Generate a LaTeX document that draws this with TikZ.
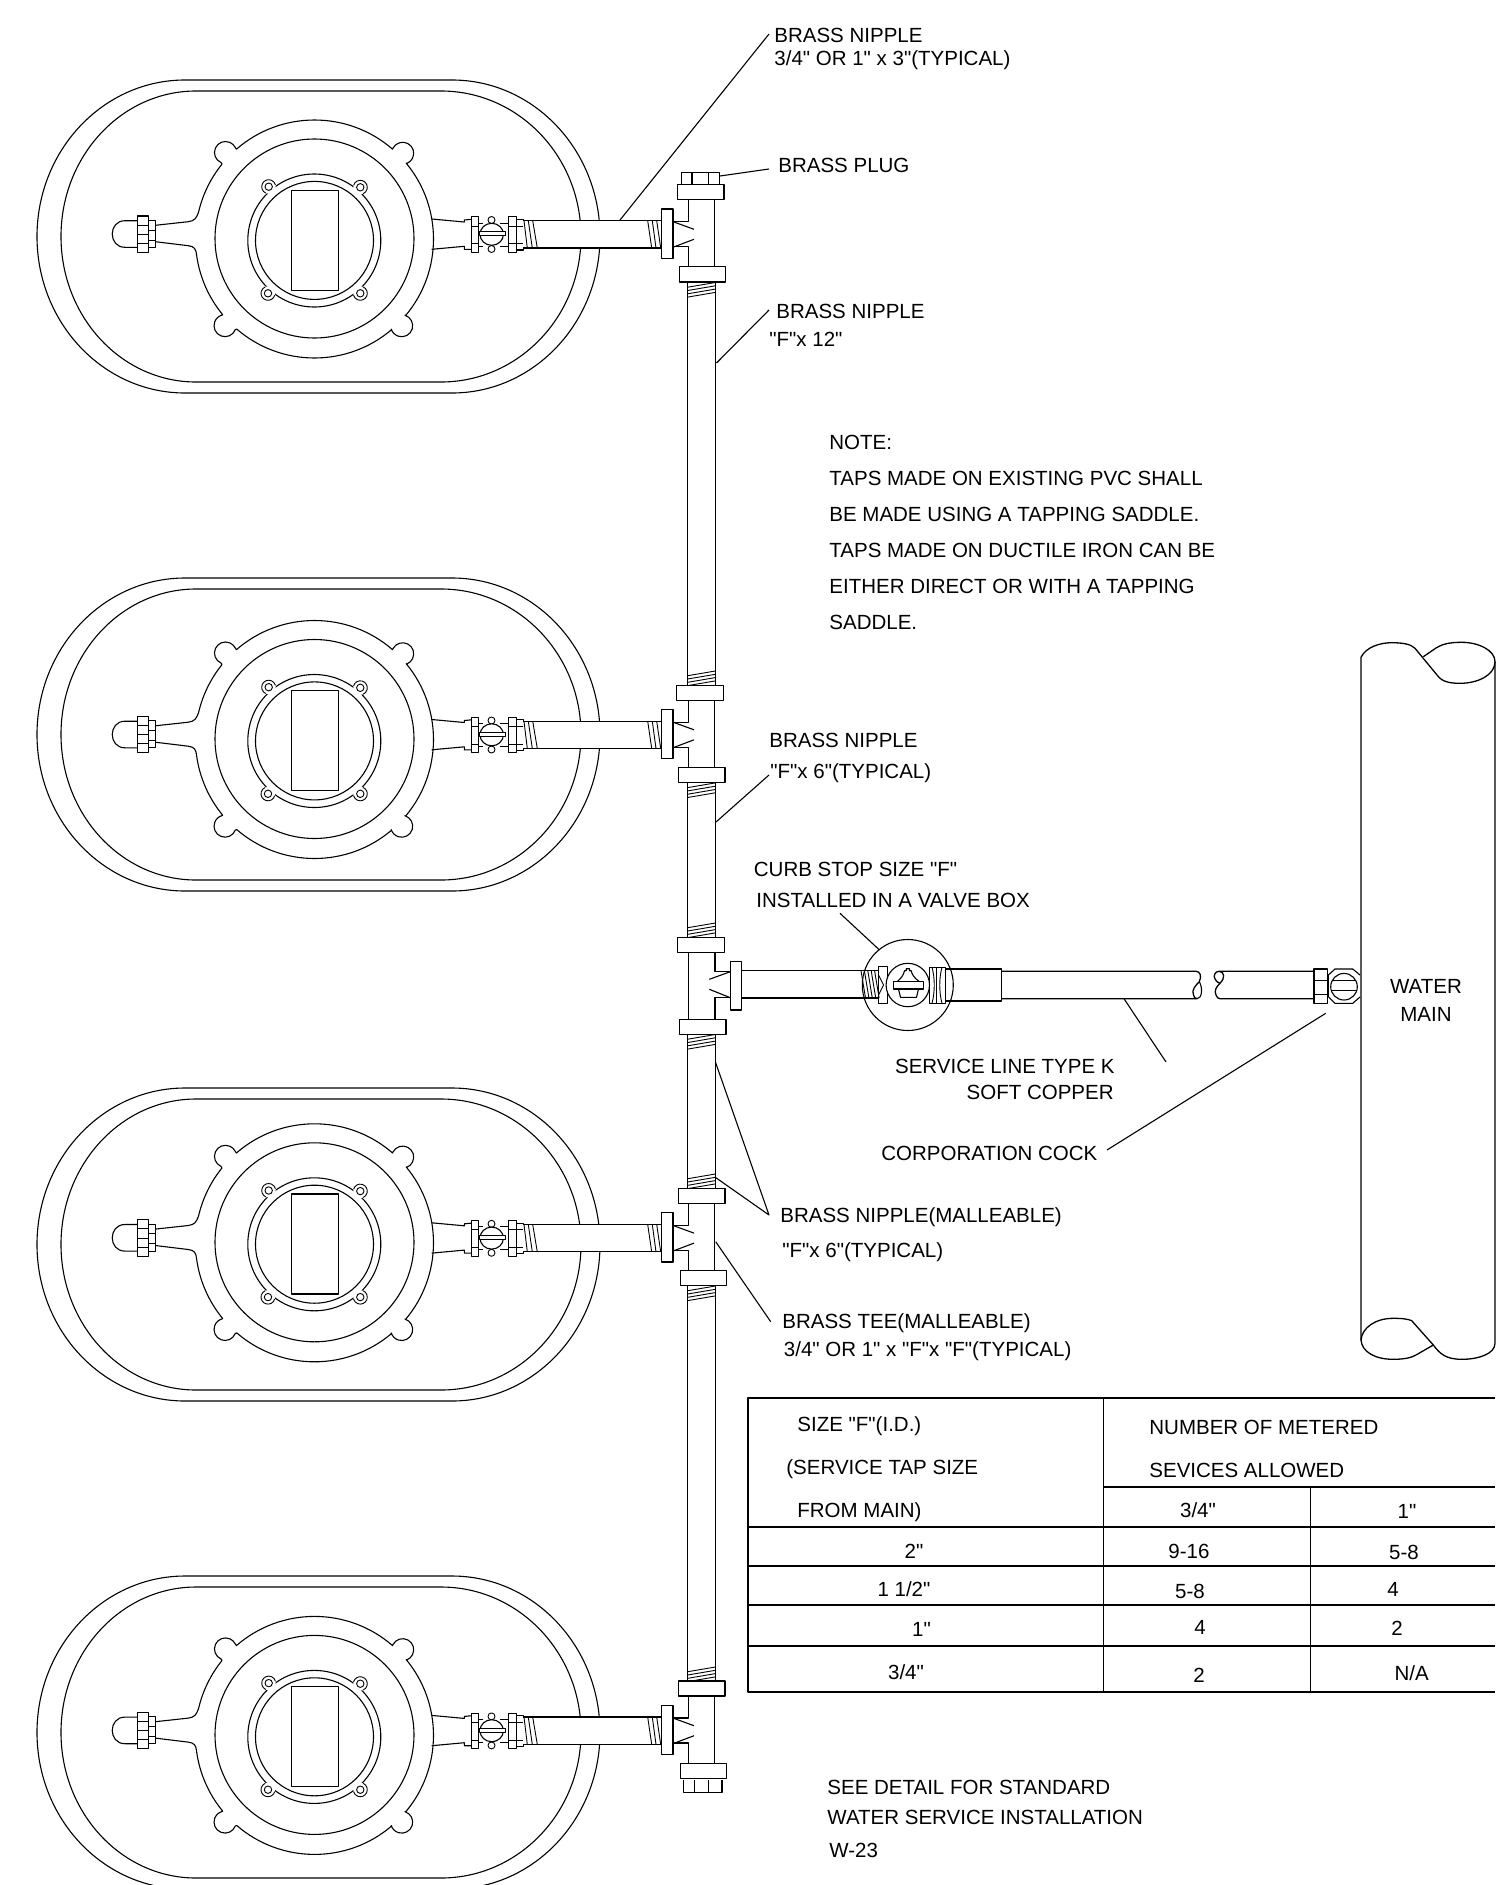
\documentclass[tikz,border=0pt]{standalone}
\usepackage{fontspec}
\setmainfont{Liberation Sans}
\newfontfamily\lblfont{Liberation Sans}
\tikzset{
  ln/.style={line width=.65pt,black,line join=round},
  thin ln/.style={line width=.55pt,black,line join=round},
  fine ln/.style={line width=.45pt,black,line join=round},
  lbl/.style={font=\lblfont\fontsize{10.25}{12}\selectfont,anchor=west,inner sep=0pt,text height=7.2pt,text depth=0pt},
  lblc/.style={lbl,anchor=center},
  lble/.style={lbl,anchor=east},
  box/.style={ln,fill=white}
}
% stadium offset, group offset
\newcommand{\MeterUnit}[2]{%
  \begin{scope}[shift={(0,#1)}]
    \draw[thin ln] (185,80) arc[start angle=-90,end angle=-180,x radius=148,y radius=156.5]
      arc[start angle=180,end angle=90,x radius=148,y radius=156.5] -- (452,393)
      arc[start angle=90,end angle=0,x radius=148,y radius=156.5]
      arc[start angle=0,end angle=-90,x radius=148,y radius=156.5] -- cycle;
    \draw[thin ln] (196,91) arc[start angle=-90,end angle=-180,x radius=135,y radius=145.5]
      arc[start angle=180,end angle=90,x radius=135,y radius=145.5] -- (441,382)
      arc[start angle=90,end angle=0,x radius=140,y radius=145.5]
      arc[start angle=0,end angle=-90,x radius=140,y radius=145.5] -- cycle;
  \end{scope}
  \begin{scope}[shift={(0,#2)}]
    \begin{scope}[shift={(314.5,239)}]
      \draw[thin ln] (-159.2,-13.7) -- (-126.2,-17.3) .. controls (-120,-18) and (-118,-21) .. (193:119)
        arc[start angle=193,end angle=219,radius=119] -- (-93.5,-76.45)
        arc[start angle=114,end angle=333,radius=11] -- (229:119)
        arc[start angle=229,end angle=311,radius=119] -- (78.5,-90.9)
        arc[start angle=208,end angle=427,radius=11] -- (320.4:119)
        arc[start angle=320.4,end angle=400,radius=119] -- (90.4,76.2)
        arc[start angle=287,end angle=522,radius=11] -- (49.6:119)
        arc[start angle=49.6,end angle=130.8,radius=119] -- (-79.2,90.6)
        arc[start angle=21,end angle=256,radius=11] -- (140.5:119)
        arc[start angle=140.5,end angle=172.3,radius=119]
        .. controls (-118.5,10) and (-120,7.5) .. (-126.2,6.7) -- (-159.2,2.7);
      \draw[thin ln] (0,-.5) circle[radius=99.5];
    \end{scope}
    \draw[thin ln] (314.3,240.5) circle[radius=66.5];
    \foreach \cx/\cy/\ang in {268.7/186.7/229.7,360.3/187.3/311,268/293.3/131.2,360.3/293.3/48.9}{
      \fill[white] (\cx,\cy) circle[radius=7];
      \draw[fine ln] ({\cx+7*cos(\ang-115)},{\cy+7*sin(\ang-115)}) arc[start angle=\ang-115,end angle=\ang+115,radius=7];
      \draw[fine ln] (\cx,\cy) circle[radius=3.7];
    }
    \draw[thin ln] (314.5,240.4) circle[radius=59];
    \draw[ln] (291.7,190.3) rectangle (338.7,290.3);
    % left cap and nuts
    \draw[thin ln] (137.7,220.7) -- (125,220.7) .. controls (108,220.7) and (108,247.3) .. (125,247.3) -- (137.7,247.3);
    \draw[thin ln] (137.7,216) rectangle (148.3,252.3);
    \draw[fine ln] (137.7,225) -- (148.3,225) (137.7,234.3) -- (148.3,234.3) (137.7,243.3) -- (148.3,243.3);
    \draw[thin ln] (148.3,220.3) rectangle (155.3,247.3);
    \draw[fine ln] (148.3,230) -- (155.3,230) (148.3,240) -- (155.3,240);
    % right tail
    \draw[thin ln] (431.7,219) -- (464.3,222) -- (464.3,220) -- (471.7,219.3);
    \draw[thin ln] (431.7,249.3) -- (464.3,246.3) -- (464.3,249.3) -- (471.7,249.3);
    % valve
    \draw[thin ln] (471.7,216.7) rectangle (478.3,252.3);
    \draw[fine ln] (471.7,226) -- (478.3,226) (471.7,243.7) -- (478.3,243.7);
    \draw[fine ln] (478.3,223) -- (483,223) (478.3,246) -- (483,246) (500,223) -- (508.3,223) (500,246) -- (508.3,246);
    \draw[fine ln] (491.5,220) circle[radius=3.5];
    \draw[fine ln] (491.5,249) circle[radius=3.5];
    \draw[thin ln,fill=white] (491.7,234.3) ellipse[x radius=11.7,y radius=11];
    \draw[thin ln,fill=white] (479.3,231.7) rectangle (505.7,235.7);
    \draw[thin ln] (508.3,216.7) rectangle (516.7,252.3);
    \draw[fine ln] (508.3,226) -- (516.7,226) (508.3,243.7) -- (516.7,243.7);
    \draw[thin ln] (516.7,219.3) rectangle (523.3,250);
    \draw[fine ln] (516.7,226) -- (523.3,226) (516.7,243.7) -- (523.3,243.7);
    % horizontal pipe
    \fill[white] (523.3,220.7) rectangle (661.7,248);
    \draw[ln] (523.3,220.7) -- (662,220.7) (523.3,248) -- (662,248);
    \foreach \ta/\tb in {524/527.3,528.3/532.3,532.7/537.3,647.7/651.7,652.3/656,656.7/660.7}{
      \draw[fine ln] (\ta,220.7) -- (\tb,248);
    }
    % tee mouth
    \fill[white] (661.7,209) rectangle (673.1,258.3);
    \draw[ln] (661.7,209) rectangle (673.1,258.3);
    \draw[ln] (673.1,221.7) -- (688.7,221.7) -- (688.7,200);
    \draw[ln] (673.1,246.7) -- (688.7,246.7) -- (688.7,266.7);
    \draw[ln] (714.3,200) -- (714.3,266.7);
    \draw[thin ln] (673.1,221.7) -- (694,229.3) (673.1,247.2) -- (694,239.3);
  \end{scope}
}
% thread on the riser: top y of the band
\newcommand{\RiserThread}[1]{%
  \foreach \k in {0,1,2,3}{\draw[fine ln] (687.7,#1+4.7+\k*3.3) -- (715.3,#1+\k*3.3);}%
}
\begin{document}
\begin{tikzpicture}[x=.5pt,y=-.5pt]
\useasboundingbox (0,0) rectangle (1495,1885);
\fill[white] (0,0) rectangle (1495,1885);

\MeterUnit{0}{0}
\MeterUnit{498}{500.5}
\MeterUnit{1008}{1003.8}
\MeterUnit{1496}{1496.4}

% riser
\draw[ln] (687.7,282) -- (687.7,685.7) (715.3,282) -- (715.3,685.7);
\draw[ln] (687.7,782.7) -- (687.7,937.3) (715.3,782.7) -- (715.3,937.3);
\draw[ln] (687.7,1034.3) -- (687.7,1188.3) (715.3,1034.3) -- (715.3,1188.3);
\draw[ln] (687.7,1285.7) -- (687.7,1681) (715.3,1285.7) -- (715.3,1681);
\RiserThread{282.5}
\RiserThread{671}
\RiserThread{782.9}
\RiserThread{923}
\RiserThread{1034.5}
\RiserThread{1174}
\RiserThread{1286}
\RiserThread{1667}

% collars and caps
\draw[box] (681.7,172.7) rectangle (719.3,184.3);
\draw[ln] (692,172.7) -- (692,184.3) (708.7,172.7) -- (708.7,184.3);
\draw[box] (677.3,184.3) rectangle (724,199.3);
\draw[box] (679.3,266.7) rectangle (725.3,282);
\draw[box] (676.7,685.7) rectangle (723.3,700.7);
\draw[box] (678.3,767.7) rectangle (725,782.7);
\draw[box] (677.3,937.3) rectangle (724.3,952.3);
\draw[box] (679.3,1019.3) rectangle (726,1034.3);
\draw[box] (678.7,1188.3) rectangle (725,1203.3);
\draw[box] (680.3,1270.3) rectangle (726.7,1285.7);
\draw[box] (678.7,1681) rectangle (725,1696);
\draw[box] (680.3,1763.3) rectangle (726.7,1778.3);
\draw[ln] (683.7,1780) -- (683.7,1792.3) -- (722,1792.3) -- (722,1780);
\draw[ln] (694.3,1780) -- (694.3,1792.3) (708.3,1780) -- (708.3,1792.3);

% curb-stop tee
\draw[ln] (688.7,952.3) -- (688.7,1019.3);
\draw[ln] (715,952.3) -- (715,971.7) -- (730.3,971.7);
\draw[ln] (715,1019.3) -- (715,997.7) -- (730.3,997.7);
\draw[thin ln] (730.3,971.7) -- (709.3,979.3) (730.3,997.7) -- (709.3,989.3);
\draw[box] (730.3,961.3) rectangle (741.7,1010);

% service line
\draw[ln] (741.7,970.7) -- (878.5,970.7) (741.7,998) -- (878.5,998);
\foreach \k in {0,1,2,3,4}{\draw[fine ln] (861+\k*3.4,970.7) -- (865.5+\k*3.4,998);}
\draw[thin ln] (878.5,966.7) rectangle (887.5,1003.3);
\draw[thin ln] (929.2,967.3) rectangle (945.8,1003.3);
\draw[fine ln] (936.8,967.3) -- (936.8,1003.3);
\draw[fine ln] (932,967.3) .. controls (935,978) and (935,992) .. (932,1003.3);
\draw[fine ln] (942,967.3) .. controls (939,978) and (939,992) .. (942,1003.3);
\draw[fine ln] (878.5,975) -- (883.5,985) -- (878.5,995);
\draw[ln] (945.8,969) -- (1001.7,969) -- (1001.7,1001) -- (945.8,1001);
\draw[thin ln] (907.8,985) circle[radius=45.5];
\draw[thin ln,fill=white] (907.8,985) circle[radius=21.7];
\begin{scope}[shift={(-1.5,0)}]
\draw[thin ln] (898.5,981.7) .. controls (903,978) and (905,975) .. (906,970.7) -- (907.7,970.7) -- (907.7,968.7) -- (911,968.7) -- (911,970.7) -- (912.7,970.7) .. controls (913.5,975) and (916,978) .. (921,981.7);
\draw[thin ln] (895,981.7) rectangle (925,989);
\draw[thin ln] (900,989) -- (902,997.3) -- (918,997.3) -- (920,989);
\end{scope}
\draw[ln] (1001.7,971.3) -- (1196,971.3) .. controls (1200,971.3) and (1202,976) .. (1199.3,981.7) .. controls (1196,985) and (1191,990) .. (1193.5,995) .. controls (1194,997) and (1195,998.7) .. (1197,998.7) -- (1001.7,998.7);
\draw[thin ln] (1199.3,981.7) .. controls (1203,988) and (1202,998.7) .. (1197,998.7);
\draw[ln] (1313.3,971.3) -- (1219,971.3) .. controls (1215,971.3) and (1213,976) .. (1215,979) .. controls (1217,982) and (1218.5,983) .. (1220,983.3) .. controls (1225,979) and (1225,971.3) .. (1219,971.3);
\draw[ln] (1220,983.3) .. controls (1216,987) and (1214,991) .. (1216,995) .. controls (1217,997.5) and (1218,998.7) .. (1220,998.7) -- (1313.3,998.7);
\draw[thin ln] (1314,969) rectangle (1327.3,1003.7);
\draw[fine ln] (1314,980) -- (1327.3,980) (1314,994) -- (1327.3,994);
\draw[thin ln] (1328.3,975) -- (1335,969) -- (1352.7,969) -- (1360,975) (1360,997) -- (1352.7,1003.3) -- (1335,1003.3) -- (1328.3,996.7) -- (1328.3,975);
\draw[thin ln] (1344,986.7) circle[radius=13.3];
\draw[fine ln] (1332,980) -- (1356,980) (1332,990.7) -- (1356,990.7);

% water main
\draw[ln] (1361,1340) -- (1361,657.3) .. controls (1366,647) and (1380,642.7) .. (1391.7,642.7) .. controls (1402,642.7) and (1411,644) .. (1415,648.3) -- (1437,675) .. controls (1442,682) and (1450,683.3) .. (1460,683.3) .. controls (1478,683.3) and (1495,675) .. (1495,661.7);
\draw[ln] (1423.3,656.7) -- (1436,648) .. controls (1442,644) and (1450,642.3) .. (1461.7,642.3) .. controls (1478,642.3) and (1495,650) .. (1495,661.7) -- (1495,1343.3);
\draw[ln] (1361,1340) .. controls (1362,1328) and (1375,1318.3) .. (1393.3,1318.3) .. controls (1402,1318.3) and (1408,1319) .. (1411.7,1320.7) -- (1433.3,1345) .. controls (1440,1354) and (1446,1359.3) .. (1462,1359.3) .. controls (1478,1359.3) and (1495,1354) .. (1495,1343.3);
\draw[ln] (1361,1340) .. controls (1362,1352) and (1375,1359.3) .. (1393.3,1359.3) .. controls (1403,1359.3) and (1411,1358) .. (1416,1355) -- (1433.3,1345);

% leaders
\coordinate (l1a) at (620,220); \coordinate (l1b) at (769,34);
\coordinate (l2a) at (720,176); \coordinate (l2b) at (769,169);
\coordinate (l3a) at (716.5,363); \coordinate (l3b) at (769,310);
\coordinate (l4a) at (716,822); \coordinate (l4b) at (769,775);
\coordinate (l5a) at (879.5,950); \coordinate (l5b) at (840,913.3);
\coordinate (l6a) at (1124,998.7); \coordinate (l6b) at (1166,1062);
\coordinate (l7a) at (1325.7,1013.3); \coordinate (l7b) at (1107,1150);
\coordinate (l8a) at (715.3,1061.7); \coordinate (l8c) at (715.3,1177.3); \coordinate (l8b) at (769,1215);
\coordinate (l9a) at (715.7,1241.7); \coordinate (l9b) at (770.7,1321.7);
\draw[thin ln] (l1a) -- (l1b) (l2a) -- (l2b) (l3a) -- (l3b) (l4a) -- (l4b) (l5a) -- (l5b) (l6a) -- (l6b) (l7a) -- (l7b) (l8a) -- (l8b) -- (l8c) (l9a) -- (l9b);

% labels
\node[lbl] (t1) at (774,35) {BRASS NIPPLE};
\node[lbl] (t2) at (774,58) {3/4" OR 1" x 3"(TYPICAL)};
\node[lbl] (t3) at (778,165) {BRASS PLUG};
\node[lbl] (t4) at (776,311.5) {BRASS NIPPLE};
\node[lbl] (t5) at (769,339) {"F"x 12"};
\node[lbl] (n0) at (829,442) {NOTE:};
\node[lbl] (n1) at (829,478.5) {TAPS MADE ON EXISTING PVC SHALL};
\node[lbl] (n2) at (829,514.5) {BE MADE USING A TAPPING SADDLE.};
\node[lbl] (n3) at (829,550.5) {TAPS MADE ON DUCTILE IRON CAN BE};
\node[lbl] (n4) at (829,586.5) {EITHER DIRECT OR WITH A TAPPING};
\node[lbl] (n5) at (829,622.5) {SADDLE.};
\node[lbl] (t6) at (769,740.5) {BRASS NIPPLE};
\node[lbl] (t7) at (770,771.5) {"F"x 6"(TYPICAL)};
\node[lbl] (t8) at (753.5,869) {CURB STOP SIZE "F"};
\node[lbl] (t9) at (756,900) {INSTALLED IN A VALVE BOX};
\node[lblc] (t10) at (1426,986.5) {WATER};
\node[lblc] (t11) at (1426,1014) {MAIN};
\node[lble] (t12) at (1115,1066) {SERVICE LINE TYPE K};
\node[lble] (t13) at (1114,1092) {SOFT COPPER};
\node[lbl] (t14) at (881,1153.5) {CORPORATION COCK};
\node[lbl] (t15) at (780,1215.5) {BRASS NIPPLE(MALLEABLE)};
\node[lbl] (t16) at (782,1250.5) {"F"x 6"(TYPICAL)};
\node[lbl] (t17) at (782,1321) {BRASS TEE(MALLEABLE)};
\node[lbl] (t18) at (783.5,1349) {3/4" OR 1" x "F"x "F"(TYPICAL)};
\node[lbl] (t19) at (827,1787.5) {SEE DETAIL FOR STANDARD};
\node[lbl] (t20) at (827,1817) {WATER SERVICE INSTALLATION};
\node[lbl] (t21) at (829,1850) {W-23};

% table
\draw[thin ln] (1495,1398) -- (748,1398) -- (748,1692) -- (1495,1692);
\draw[thin ln] (1103.5,1398) -- (1103.5,1692) (1310.5,1487) -- (1310.5,1692);
\draw[thin ln] (1103.5,1487) -- (1495,1487);
\draw[thin ln] (748,1527) -- (1495,1527) (748,1566) -- (1495,1566) (748,1605) -- (1495,1605) (748,1646) -- (1495,1646);
\node[lbl] (c1) at (797,1424) {SIZE "F"(I.D.)};
\node[lbl] (c2) at (786,1467) {(SERVICE TAP SIZE};
\node[lbl] (c3) at (797,1510) {FROM MAIN)};
\node[lbl] (c4) at (1149,1427) {NUMBER OF METERED};
\node[lbl] (c5) at (1149,1470) {SEVICES ALLOWED};
\node[lblc] (c6) at (1198,1510) {3/4"};
\node[lblc] (c7) at (1407,1511) {1"};
\node[lblc] (c8) at (914,1551) {2"};
\node[lblc] (c9) at (1189,1551) {9-16};
\node[lblc] (c10) at (1404,1552) {5-8};
\node[lblc] (c11) at (904,1589) {1 1/2"};
\node[lblc] (c12) at (1190,1591) {5-8};
\node[lblc] (c13) at (1393,1589) {4};
\node[lblc] (c14) at (921.5,1629) {1"};
\node[lblc] (c15) at (1200,1627) {4};
\node[lblc] (c16) at (1397,1628) {2};
\node[lblc] (c17) at (906,1672) {3/4"};
\node[lblc] (c18) at (1199,1675) {2};
\node[lblc] (c19) at (1411.6,1673) {N/A};
\end{tikzpicture}
\end{document}
